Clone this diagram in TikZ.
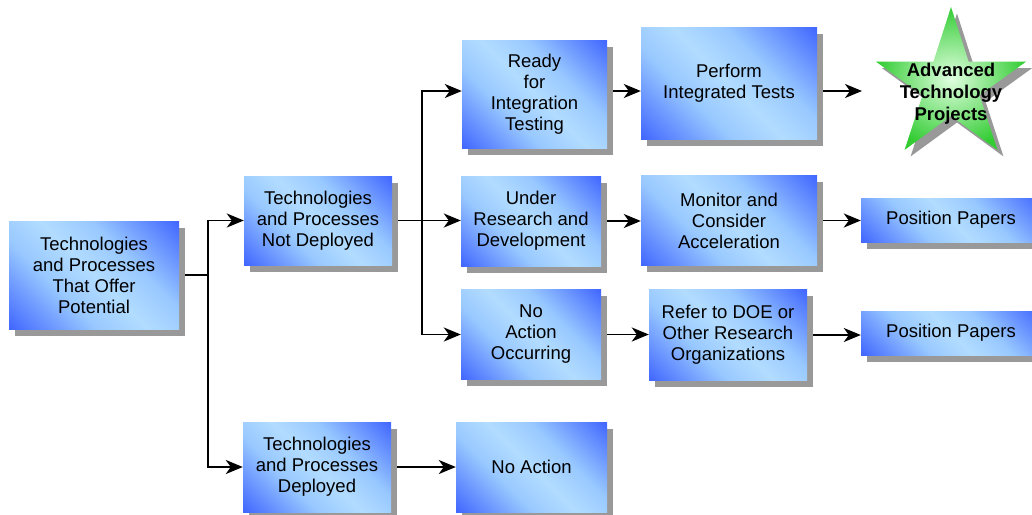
\documentclass[tikz,border=0pt]{standalone}
\usepackage{fontspec}
\setmainfont{Liberation Sans}
\usetikzlibrary{arrows.meta,shadows,backgrounds}

\definecolor{bdark}{RGB}{66,104,255}
\definecolor{blight}{RGB}{152,200,255}
\definecolor{bpale}{RGB}{178,220,255}
\definecolor{sgreen}{RGB}{51,204,51}
\definecolor{spale}{RGB}{225,255,225}
\definecolor{shadowgray}{RGB}{153,153,153}

% blue at two opposite corners, pale along the other diagonal
\pgfdeclareverticalshading{boxshade}{100bp}{color(0bp)=(bdark); color(15bp)=(bdark); color(37bp)=(blight); color(50bp)=(bpale); color(63bp)=(blight); color(85bp)=(bdark); color(100bp)=(bdark)}

\begin{document}
\begin{tikzpicture}[x=1pt,y=-1pt,
  box/.style={shade, shading=boxshade, shading angle=-45, inner sep=0pt,
    align=center, text=black, font=\fontsize{18.5}{21}\selectfont,
    drop shadow={shadow xshift=6pt, shadow yshift=-6.5pt, fill=shadowgray, opacity=1}},
  arr/.style={line width=1.9pt, -{Stealth[length=17pt,width=14pt,inset=5pt]}},
  link/.style={line width=1.9pt}]

\useasboundingbox (0,0) rectangle (1032,514);

% boxes
\node[box, minimum width=170pt, minimum height=108pt] (b1) at (94,275) {Technologies\\and Processes\\That Offer\\Potential};
\node[box, minimum width=148pt, minimum height=89pt] (b2) at (318,220.5) {Technologies\\and Processes\\Not Deployed};
\node[box, minimum width=148pt, minimum height=90pt] (b3) at (317,467) {Technologies\\and Processes\\Deployed};
\node[box, minimum width=145pt, minimum height=108pt] (b4) at (534.5,94) {Ready\\for\\Integration\\Testing};
\node[box, minimum width=140pt, minimum height=90pt] (b5) at (531,221) {Under\\Research and\\Development};
\node[box, minimum width=140pt, minimum height=90pt] (b6) at (531,334.5) {No\\Action\\Occurring};
\node[box, minimum width=151pt, minimum height=90pt] (b7) at (531.5,467) {No Action};
\node[box, minimum width=176pt, minimum height=112pt] (b8) at (729,83.5) {Perform\\Integrated Tests};
\node[box, minimum width=176pt, minimum height=90pt] (b9) at (729,220.5) {Monitor and\\Consider\\Acceleration};
\node[box, minimum width=158pt, minimum height=91pt] (b10) at (728,335) {Refer to DOE or\\Other Research\\Organizations};
\node[box, minimum width=180pt, minimum height=44pt] (b11) at (951,220) {Position Papers};
\node[box, minimum width=180pt, minimum height=44pt] (b12) at (951,333) {Position Papers};

% five-pointed star with its shadow
\begin{scope}[shift={(957,92.5)}]
  \fill[shadowgray] plot[samples at={0,...,9}] ({-90-36*\x}:{79-49*mod(\x,2)}) -- cycle;
\end{scope}
\begin{scope}[shift={(951,86)}]
  \shade[inner color=spale, outer color=sgreen] plot[samples at={0,...,9}] ({-90-36*\x}:{79-49*mod(\x,2)}) -- cycle;
\end{scope}
\node[font=\bfseries\fontsize{18.5}{22}\selectfont, align=center, inner sep=0pt] (star) at (951,94) {Advanced\\Technology\\Projects};

% connectors
\begin{scope}[on background layer]
  \coordinate (j1) at (208,275);
  \coordinate (j2) at (422,220.5);
  \coordinate (sa) at (862,91);
  \draw[link] (b1.east) -- (j1);
  \draw[arr] (j1) |- (b2.west);
  \draw[arr] (j1) |- (b3.west);
  \draw[arr] (b2.east) -- (b2.east -| b5.west);
  \draw[arr] (j2) |- ([yshift=3pt]b4.west);
  \draw[arr] (j2) |- (b6.west);
  \draw[arr] (b3.east) -- (b7.west);
  \draw[arr] (sa -| b4.east) -- (sa -| b8.west);
  \draw[arr] (sa -| b8.east) -- (sa);
  \draw[arr] (b5.east) -- (b5.east -| b9.west);
  \draw[arr] (b6.east) -- (b6.east -| b10.west);
  \draw[arr] (b9.east) -- (b9.east -| b11.west);
  \draw[arr] (b10.east) -- (b10.east -| b12.west);
\end{scope}
\end{tikzpicture}
\end{document}
